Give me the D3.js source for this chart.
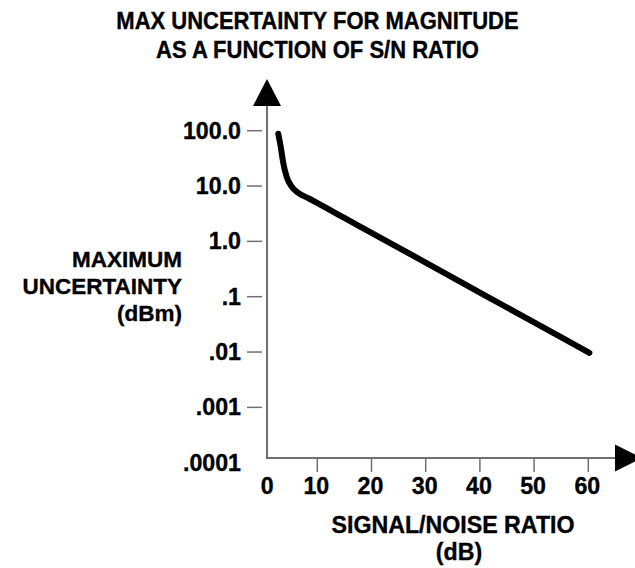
<!DOCTYPE html>
<html>
<head>
<meta charset="utf-8">
<script src="https://cdn.jsdelivr.net/npm/d3@7"></script>
<style>
  html, body { margin: 0; padding: 0; background: #fff; }
  svg { display: block; font-family: "Liberation Sans", Arial, Helvetica, sans-serif; font-weight: bold; }
  svg text { stroke: #000; stroke-width: 0.35px; }
</style>
</head>
<body>
<svg id="chart" width="635" height="568"></svg>
<script>
// ---- data ----
const titleLines = ["MAX UNCERTAINTY FOR MAGNITUDE", "AS A FUNCTION OF S/N RATIO"];
const yTitleLines = ["MAXIMUM", "UNCERTAINTY", "(dBm)"];
const xTitleLines = ["SIGNAL/NOISE RATIO", "(dB)"];
const xTicks = [0, 10, 20, 30, 40, 50, 60];
const xTickLabels = ["0", "10", "20", "30", "40", "50", "60"];
const yTicks = [100, 10, 1, 0.1, 0.01, 0.001, 0.0001];
const yTickLabels = ["100.0", "10.0", "1.0", ".1", ".01", ".001", ".0001"];
const snr = [2.8, 3.25, 3.73, 4.35, 5.28, 6.2, 8.65, 11.73, 15, 20, 30, 40, 50, 60.2];
const uncertainty = [88, 51.4, 25.8, 14.7, 9.73, 7.9, 5.83, 3.97, 2.65, 1.43, 0.413, 0.119, 0.0344, 0.0097];

// ---- layout ----
const svg = d3.select("#chart");
const axisX = 267;      // y-axis line position
const axisY = 458;      // x-axis line position
const x = d3.scaleLinear().domain([0, 60]).range([263.1, 588.3]);
const y = d3.scaleLog().domain([100, 0.0001]).range([130.7, 462.7]);
const grey = "#707070";
const fs = 23.2;

// title (slightly tall lettering)
svg.append("g").selectAll("text").data(titleLines).join("text")
  .attr("transform", (d, i) => `translate(317.5,${29 + i * 29}) scale(1,1.06)`)
  .attr("text-anchor", "middle").attr("font-size", 22).attr("fill", "#000")
  .text(d => d);

// axes lines
svg.append("line").attr("x1", axisX).attr("x2", axisX).attr("y1", axisY).attr("y2", 104)
  .attr("stroke", grey).attr("stroke-width", 2);
svg.append("line").attr("x1", axisX - 1).attr("x2", 617).attr("y1", axisY).attr("y2", axisY)
  .attr("stroke", grey).attr("stroke-width", 2);

// arrowheads
svg.append("path").attr("d", `M${axisX},79 L${axisX - 14},106 L${axisX + 14},106 Z`).attr("fill", "#000");
svg.append("path").attr("d", `M642,${axisY} L615,${axisY - 13.5} L615,${axisY + 13.5} Z`).attr("fill", "#000");

// y ticks (no tick mark for bottom label)
const yg = svg.append("g");
yg.selectAll("line").data(yTicks.slice(0, -1)).join("line")
  .attr("x1", 247).attr("x2", 262)
  .attr("y1", d => y(d)).attr("y2", d => y(d))
  .attr("stroke", grey).attr("stroke-width", 1.5);
yg.selectAll("text").data(yTicks).join("text")
  .attr("x", 241).attr("y", d => y(d) + 8)
  .attr("text-anchor", "end").attr("font-size", fs).attr("fill", "#000")
  .text((d, i) => yTickLabels[i]);

// x ticks (none at 0)
const xg = svg.append("g");
xg.selectAll("line").data(xTicks.slice(1)).join("line")
  .attr("x1", d => x(d)).attr("x2", d => x(d))
  .attr("y1", axisY).attr("y2", 472)
  .attr("stroke", grey).attr("stroke-width", 1.5);
xg.selectAll("text").data(xTicks).join("text")
  .attr("x", d => d === 0 ? x(d) + 4 : x(d) - 1).attr("y", 494)
  .attr("text-anchor", "middle").attr("font-size", fs).attr("fill", "#000")
  .text((d, i) => xTickLabels[i]);

// axis titles
svg.append("g").selectAll("text").data(yTitleLines).join("text")
  .attr("x", 182).attr("y", (d, i) => 267 + i * 27)
  .attr("text-anchor", "end").attr("font-size", 22.5).attr("fill", "#000")
  .text(d => d);
svg.append("g").selectAll("text").data(xTitleLines).join("text")
  .attr("x", (d, i) => i === 0 ? 453 : 459).attr("y", (d, i) => 533 + i * 27)
  .attr("text-anchor", "middle").attr("font-size", fs).attr("fill", "#000")
  .text(d => d);

// curve
const pts = snr.map((s, i) => [s, uncertainty[i]]);
svg.append("path").datum(pts)
  .attr("d", d3.line().x(d => x(d[0])).y(d => y(d[1])).curve(d3.curveMonotoneX))
  .attr("fill", "none").attr("stroke", "#000").attr("stroke-width", 6)
  .attr("stroke-linecap", "round").attr("stroke-linejoin", "round");
</script>
</body>
</html>
